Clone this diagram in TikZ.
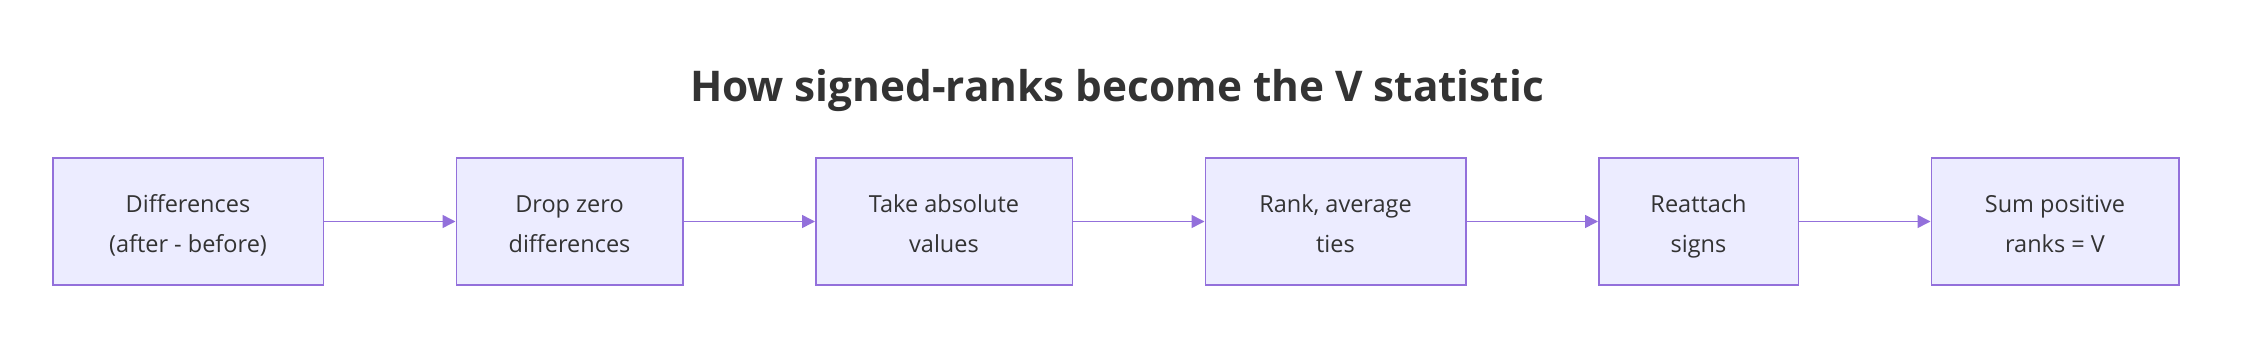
\documentclass[tikz,border=0pt]{standalone}
\usepackage{fontspec}
\setmainfont{Open Sans}
\usepackage{tikz}
\usetikzlibrary{arrows.meta,positioning}
\definecolor{boxfill}{HTML}{ECECFF}
\definecolor{boxline}{HTML}{9370DB}
\definecolor{txt}{HTML}{333333}
\begin{document}
\begin{tikzpicture}[
  node distance=131.5pt,
  stage/.style={rectangle, draw=boxline, fill=boxfill, line width=1.5pt, minimum height=127pt, align=center, text height=61pt, text depth=0pt, text=txt, font=\fontsize{23.5}{40}\selectfont},
  arrow/.style={-{Triangle[length=13pt,width=13pt]}, draw=boxline, line width=1.5pt},
]
  \useasboundingbox (0,0) rectangle (2248pt,-342pt);
  \node[text=txt, font=\fontsize{42.3}{48}\selectfont\bfseries] (title) at (1117pt,-91pt) {How signed-ranks become the V statistic};

  \node[stage, minimum width=270.5pt] (diff) at (188pt,-221.5pt) {Differences\\(after - before)};
  \node[stage, minimum width=226.5pt, right=of diff] (drop) {Drop zero\\differences};
  \node[stage, minimum width=256.5pt, right=of drop] (abs) {Take absolute\\values};
  \node[stage, minimum width=260.5pt, right=of abs] (rank) {Rank, average\\ties};
  \node[stage, minimum width=199.5pt, right=of rank] (sign) {Reattach\\signs};
  \node[stage, minimum width=247.5pt, right=of sign] (sum) {Sum positive\\ranks = V};

  \draw[arrow] (diff) -- (drop);
  \draw[arrow] (drop) -- (abs);
  \draw[arrow] (abs) -- (rank);
  \draw[arrow] (rank) -- (sign);
  \draw[arrow] (sign) -- (sum);
\end{tikzpicture}
\end{document}
